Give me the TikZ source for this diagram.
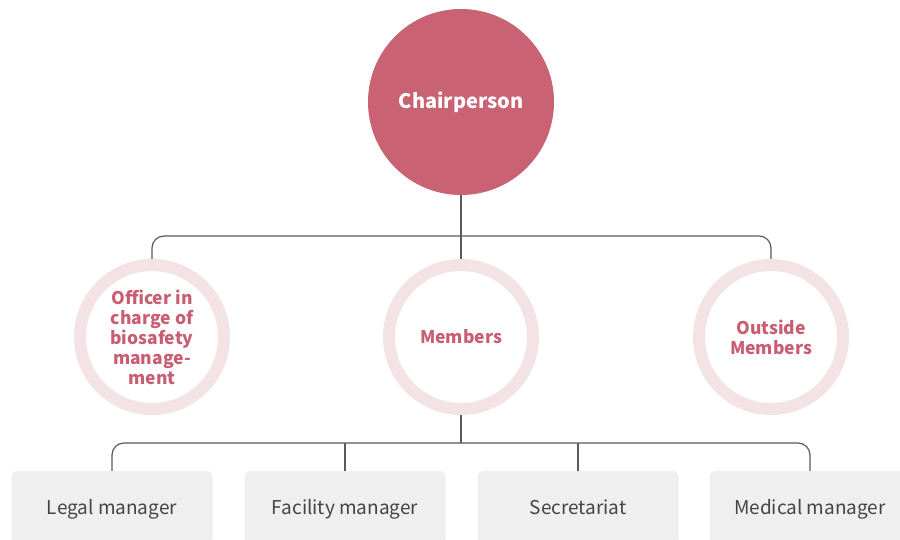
\documentclass[tikz,border=0pt]{standalone}
\usepackage{fontspec}
\setmainfont{Noto Sans CJK KR}
\usetikzlibrary{positioning}
\definecolor{rose}{HTML}{C96374}
\definecolor{rosetext}{HTML}{C95E72}
\definecolor{ringpink}{HTML}{F3E3E4}
\definecolor{boxgray}{HTML}{EFEFEF}
\definecolor{linegray}{HTML}{5A5A5A}
\definecolor{darktext}{HTML}{444444}

\begin{document}
\begin{tikzpicture}[x=1pt,y=-1pt,
  chair/.style={circle,fill=rose,minimum size=186pt,inner sep=0pt,text=white,font=\fontsize{20}{22}\selectfont\bfseries},
  ring/.style={circle,draw=ringpink,line width=12pt,fill=white,minimum size=144pt,inner sep=0pt,text=rosetext,align=center,font=\fontsize{17.5}{20}\selectfont\bfseries},
  staffbox/.style={rectangle,rounded corners=6pt,fill=boxgray,minimum width=201pt,minimum height=74pt,inner sep=0pt,text height=15pt,text depth=2pt,text=darktext,font=\fontsize{19}{22}\selectfont},
  link/.style={draw=linegray,line width=1.2pt,rounded corners=12pt}]
\clip (0,0) rectangle (900,540);
\fill[white] (0,0) rectangle (900,540);
% top level
\node[chair] (chair) at (461,102) {Chairperson};
% committee
\node[ring] (officer) at (152,337) {Officer in\\charge of\\biosafety\\manage-\\ment};
\node[ring] (members) at (461,337) {Members};
\node[ring] (outside) at (771,337) {Outside\\Members};
% staff
\node[staffbox] (legal) at (112,508) {Legal manager};
\node[staffbox] (facility) at (345,508) {Facility manager};
\node[staffbox] (secretariat) at (578,508) {Secretariat};
\node[staffbox] (medical) at (810,508) {Medical manager};
% connectors
\coordinate (topbus) at (461,236);
\coordinate (lowbus) at (461,443);
\draw[link] (chair.south) -- (members.north);
\draw[link] (officer.north) |- (topbus) -| (outside.north);
\draw[link] (members.south) -- (lowbus);
\draw[link] (legal.north) |- (lowbus) -| (medical.north);
\draw[link] (facility.north) -- (facility.north |- lowbus);
\draw[link] (secretariat.north) -- (secretariat.north |- lowbus);
\end{tikzpicture}
\end{document}
